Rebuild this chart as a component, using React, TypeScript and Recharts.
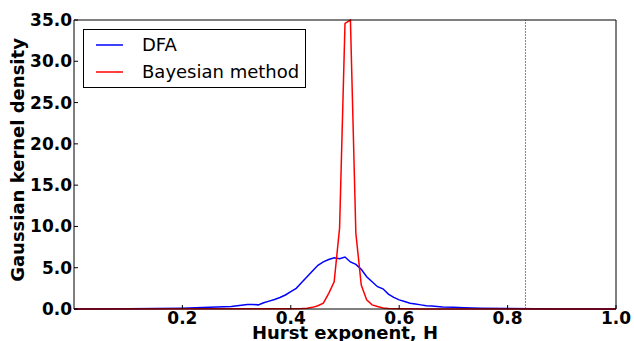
import React from 'react';
import { LineChart, Line, XAxis, YAxis, ReferenceLine, Legend, Label } from 'recharts';

// DFA kernel density estimate
const dfaH = [0.0, 0.1, 0.15, 0.2, 0.25, 0.29, 0.32, 0.33, 0.34, 0.35, 0.36, 0.37, 0.38, 0.39, 0.4, 0.41, 0.42, 0.43, 0.44, 0.45, 0.46, 0.47, 0.48, 0.49, 0.5, 0.51, 0.52, 0.53, 0.54, 0.55, 0.56, 0.57, 0.58, 0.59, 0.6, 0.61, 0.62, 0.63, 0.64, 0.65, 0.66, 0.68, 0.7, 0.72, 0.75, 0.8, 0.85, 0.9, 1.0];
const dfaDensity = [0, 0.02, 0.05, 0.1, 0.2, 0.3, 0.55, 0.55, 0.5, 0.75, 0.95, 1.15, 1.4, 1.7, 2.1, 2.5, 3.2, 3.9, 4.6, 5.3, 5.7, 6.0, 6.2, 6.1, 6.3, 5.7, 5.4, 4.8, 3.9, 3.3, 2.7, 2.45, 1.8, 1.4, 1.1, 0.9, 0.7, 0.6, 0.5, 0.4, 0.35, 0.25, 0.2, 0.15, 0.1, 0.05, 0.02, 0, 0];

// Bayesian method kernel density estimate
const bayesH = [0.0, 0.4, 0.42, 0.43, 0.44, 0.45, 0.46, 0.47, 0.48, 0.49, 0.5, 0.51, 0.52, 0.53, 0.54, 0.55, 0.56, 0.57, 0.58, 0.6, 0.65, 1.0];
const bayesDensity = [0, 0.02, 0.05, 0.1, 0.2, 0.4, 0.7, 1.9, 3.3, 9.8, 34.6, 35.0, 9.2, 2.9, 1.1, 0.5, 0.3, 0.12, 0.05, 0.02, 0, 0];

const seriesNames = ['DFA', 'Bayesian method'];
const seriesColors = ['#0000ff', '#ff0000'];

const xTicks = [0.2, 0.4, 0.6, 0.8, 1.0];
const yTicks = [0, 5, 10, 15, 20, 25, 30, 35];
const markerH = 0.833;

const dfaData = dfaH.map((h, i) => ({ h, v: dfaDensity[i] }));
const bayesData = bayesH.map((h, i) => ({ h, v: bayesDensity[i] }));

const FONT = 'DejaVu Sans';

const BottomTick = (props: any) => {
  const { x, y, payload } = props;
  return (
    <g>
      <line x1={x} y1={y} x2={x} y2={y - 4} stroke="#000" strokeWidth={1} />
      <text x={x} y={y + 15} textAnchor="middle" fontWeight="bold" fontSize={17} fontFamily={FONT} fill="#000">
        {Number(payload.value).toFixed(1)}
      </text>
    </g>
  );
};

const TopTick = (props: any) => {
  const { x, y } = props;
  return <line x1={x} y1={y} x2={x} y2={y + 4} stroke="#000" strokeWidth={1} />;
};

const LeftTick = (props: any) => {
  const { x, y, payload } = props;
  return (
    <g>
      <line x1={x} y1={y} x2={x + 4} y2={y} stroke="#000" strokeWidth={1} />
      <text x={x - 2} y={y} textAnchor="end" dominantBaseline="central" fontWeight="bold" fontSize={17} fontFamily={FONT} fill="#000">
        {Number(payload.value).toFixed(1)}
      </text>
    </g>
  );
};

const RightTick = (props: any) => {
  const { x, y } = props;
  return <line x1={x} y1={y} x2={x - 4} y2={y} stroke="#000" strokeWidth={1} />;
};

const LegendBox = () => {
  return (
    <div
      style={{
        border: '1px solid #000',
        background: '#fff',
        width: 221,
        height: 57,
        boxSizing: 'content-box',
        fontFamily: FONT,
        fontSize: 18,
        color: '#000',
        position: 'relative',
      }}
    >
      {seriesNames.map((name, i) => (
        <div key={name} style={{ position: 'absolute', left: 0, top: 3 + i * 26.5, height: 24, display: 'flex', alignItems: 'center' }}>
          <svg width={27} height={4} style={{ marginLeft: 12, display: 'block' }}>
            <line x1={0} y1={2} x2={27} y2={2} stroke={seriesColors[i]} strokeWidth={1.5} />
          </svg>
          <span style={{ marginLeft: 19, lineHeight: '24px', whiteSpace: 'nowrap' }}>{name}</span>
        </div>
      ))}
    </div>
  );
};

export default function App() {
  return (
    <div style={{ position: 'absolute', left: 0, top: 0, width: 634, height: 341, background: '#fff' }}>
      <LineChart width={634} height={341} margin={{ top: 19, right: 17, bottom: 31, left: 73 }}>
        <XAxis
          xAxisId="bottom"
          dataKey="h"
          type="number"
          domain={[0, 1]}
          ticks={xTicks}
          interval={0}
          height={1}
          tickSize={0}
          tickMargin={0}
          tick={<BottomTick />}
          axisLine={{ stroke: '#000', strokeWidth: 1 }}
        >
          <Label
            content={() => (
              <text x={345} y={339} textAnchor="middle" fontWeight="bold" fontSize={18} fontFamily={FONT} fill="#000">
                Hurst exponent, H
              </text>
            )}
          />
        </XAxis>
        <XAxis
          xAxisId="top"
          orientation="top"
          type="number"
          domain={[0, 1]}
          ticks={xTicks}
          interval={0}
          height={1}
          tickSize={0}
          tickMargin={0}
          tick={<TopTick />}
          axisLine={{ stroke: '#000', strokeWidth: 1 }}
        />
        <YAxis
          yAxisId="left"
          type="number"
          domain={[0, 35]}
          ticks={yTicks}
          interval={0}
          width={1}
          tickSize={0}
          tickMargin={0}
          tick={<LeftTick />}
          axisLine={{ stroke: '#000', strokeWidth: 1 }}
        >
          <Label
            content={() => (
              <text
                x={23.5}
                y={160}
                transform="rotate(-90 23.5 160)"
                textAnchor="middle"
                fontWeight="bold"
                fontSize={18}
                fontFamily={FONT}
                fill="#000"
              >
                Gaussian kernel density
              </text>
            )}
          />
        </YAxis>
        <YAxis
          yAxisId="right"
          orientation="right"
          type="number"
          domain={[0, 35]}
          ticks={yTicks}
          interval={0}
          width={1}
          tickSize={0}
          tickMargin={0}
          tick={<RightTick />}
          axisLine={{ stroke: '#000', strokeWidth: 1 }}
        />
        <ReferenceLine
          xAxisId="bottom"
          yAxisId="left"
          x={markerH}
          stroke="#888"
          strokeWidth={1}
          strokeDasharray="2 1"
        />
        <Line
          xAxisId="bottom"
          yAxisId="left"
          data={dfaData}
          dataKey="v"
          name={seriesNames[0]}
          type="linear"
          stroke={seriesColors[0]}
          strokeWidth={1.5}
          dot={false}
          isAnimationActive={false}
        />
        <Line
          xAxisId="bottom"
          yAxisId="left"
          data={bayesData}
          dataKey="v"
          name={seriesNames[1]}
          type="linear"
          stroke={seriesColors[1]}
          strokeWidth={1.5}
          dot={false}
          isAnimationActive={false}
        />
        <Legend
          layout="vertical"
          align="center"
          verticalAlign="middle"
          content={<LegendBox />}
          wrapperStyle={{ top: 29, left: 83, width: 'auto', height: 'auto' }}
        />
      </LineChart>
    </div>
  );
}
